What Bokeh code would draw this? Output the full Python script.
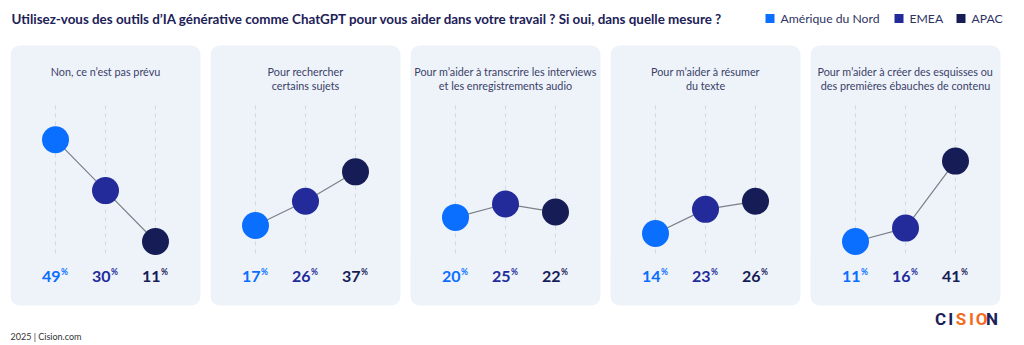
from bokeh.plotting import figure
from bokeh.models import Range1d, BoxAnnotation
from bokeh.core.properties import value
from bokeh.embed import file_html
from bokeh.resources import INLINE

# ---- data ----
title = "Utilisez-vous des outils d\u2019IA générative comme ChatGPT pour vous aider dans votre travail ? Si oui, dans quelle mesure ?"
regions = ["Amérique du Nord", "EMEA", "APAC"]
region_colors = ["#0a6eff", "#232b9b", "#161d56"]
answers = [
    "Non, ce n\u2019est pas prévu",
    "Pour rechercher\ncertains sujets",
    "Pour m\u2019aider à transcrire les interviews\net les enregistrements audio",
    "Pour m\u2019aider à résumer\ndu texte",
    "Pour m\u2019aider à créer des esquisses ou\ndes premières ébauches de contenu",
]
amerique_du_nord = [49, 17, 20, 14, 11]
emea = [30, 26, 25, 23, 16]
apac = [11, 37, 22, 26, 41]
footer = "2025 | Cision.com"

W, H = 1024, 345
PX_PER_PCT = 2.68
ZERO_SY = 270.5


def vy(sy):
    # convert a screen-y layout position into the value axis
    return (ZERO_SY - sy) / PX_PER_PCT


p = figure(width=W, height=H, output_backend="svg", toolbar_location=None,
           x_range=Range1d(0, W), y_range=Range1d(vy(H), vy(0)),
           min_border=0, outline_line_color=None)
p.axis.visible = False
p.grid.visible = False
p.background_fill_color = "white"
p.border_fill_color = "white"

FONT = value("Lato")
NAVY = "#1c2157"

# title
p.text(x=[11], y=[vy(18)], text=[title], text_font=FONT, text_font_size="13.4px",
       text_font_style="bold", text_color=NAVY, text_baseline="middle", text_align="left")

# legend
leg_x = [765, 894, 956]
for lx, name, c in zip(leg_x, regions, region_colors):
    p.scatter(x=[lx + 4.5], y=[vy(18)], size=9, marker="square", fill_color=c, line_color=None)
    p.text(x=[lx + 15], y=[vy(18)], text=[name], text_font=FONT, text_font_size="12.2px",
           text_color="#2e3463", text_baseline="middle", text_align="left")

series = [amerique_du_nord, emea, apac]
for i, ans in enumerate(answers):
    left = 10 + 200 * i
    p.add_layout(BoxAnnotation(left=left, right=left + 190, top=vy(45), bottom=vy(305),
                               fill_color="#eef3fa", fill_alpha=1, line_color=None,
                               border_radius=9, level="underlay"))
    cx = left + 95
    for k, line in enumerate(ans.split("\n")):
        p.text(x=[cx], y=[vy(71 + 13.5 * k)], text=[line], text_font=FONT, text_font_size="10.8px",
               text_color="#3a3f68", text_baseline="middle", text_align="center")
    xs = [left + 45 + 50 * j for j in range(3)]
    vals = [s[i] for s in series]
    p.segment(x0=xs, x1=xs, y0=[vy(105)] * 3, y1=[vy(257)] * 3, line_color="#d3d8e2",
              line_width=1, line_dash="4 4")
    p.line(x=xs, y=vals, line_color="#7d7f88", line_width=1.2)
    p.scatter(x=xs, y=vals, size=27, fill_color=region_colors, line_color=None)
    for x, v, c in zip(xs, vals, region_colors):
        p.text(x=[x + 5], y=[vy(276)], text=[str(v)], text_font=FONT, text_font_size="16px",
               text_font_style="bold", text_color=c, text_baseline="middle", text_align="right")
        p.text(x=[x + 5.5], y=[vy(271.5)], text=["%"], text_font=FONT, text_font_size="8.5px",
               text_font_style="bold", text_color=c, text_baseline="middle", text_align="left")

# footer
p.text(x=[10], y=[vy(336)], text=[footer], text_font=FONT, text_font_size="9px",
       text_color="#333333", text_baseline="middle", text_align="left")

# logo
logo_cols = ["#1c2157", "#1c2157", "#f26b21", "#f26b21", "#f26b21", "#1c2157"]
for k, (ch, c) in enumerate(zip("CISION", logo_cols)):
    p.text(x=[940 + 10.3 * k], y=[vy(318.5)], text=[ch], text_font=value("Roboto"),
           text_font_size="17px", text_font_style="bold", text_color=c,
           text_baseline="middle", text_align="center")

open("out.html", "w").write(file_html(p, INLINE))
